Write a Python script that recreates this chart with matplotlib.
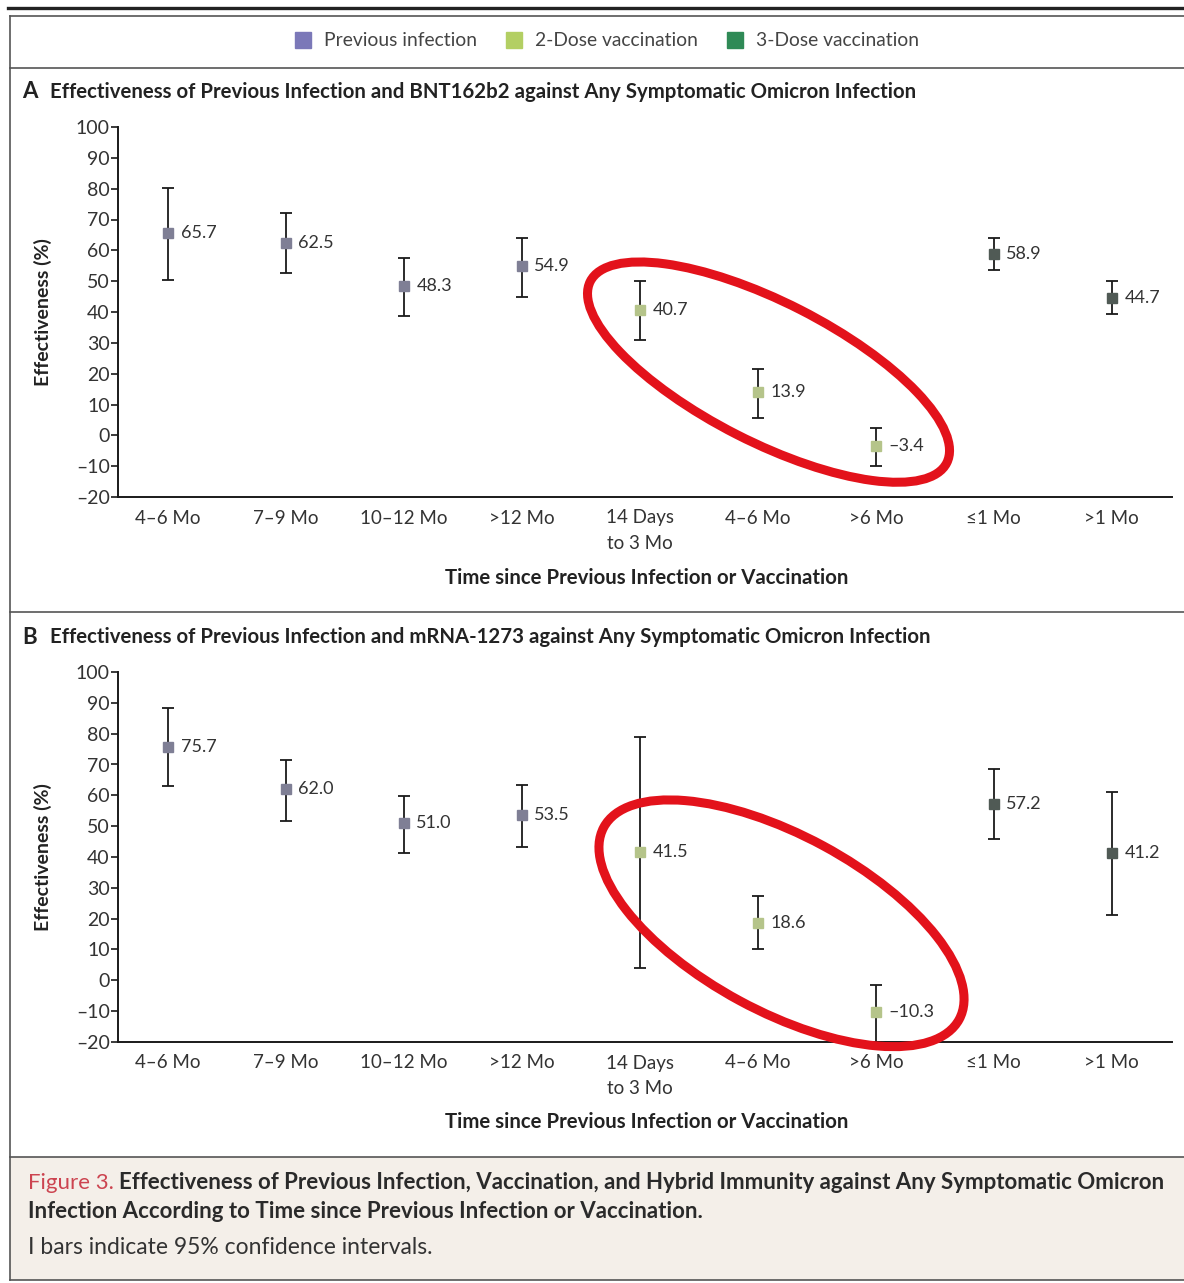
import matplotlib
matplotlib.use('Agg')
import matplotlib.pyplot as plt
from matplotlib.lines import Line2D
from matplotlib.patches import Ellipse, Rectangle
import matplotlib.transforms as mtransforms

plt.rcParams['font.family'] = ['Lato', 'DejaVu Sans']

# categories along the x axis
categories = ['4–6 Mo', '7–9 Mo', '10–12 Mo', '>12 Mo', '14 Days\nto 3 Mo',
              '4–6 Mo', '>6 Mo', '≤1 Mo', '>1 Mo']
groups = ['prev'] * 4 + ['dose2'] * 3 + ['dose3'] * 2

# panel A: BNT162b2
a_est = [65.7, 62.5, 48.3, 54.9, 40.7, 13.9, -3.4, 58.9, 44.7]
a_lo = [50.5, 52.5, 38.8, 45.0, 31.0, 5.6, -9.8, 53.6, 39.5]
a_hi = [80.2, 72.2, 57.4, 64.0, 49.9, 21.5, 2.3, 64.0, 49.9]

# panel B: mRNA-1273
b_est = [75.7, 62.0, 51.0, 53.5, 41.5, 18.6, -10.3, 57.2, 41.2]
b_lo = [62.9, 51.8, 41.4, 43.3, 4.0, 10.2, -20.0, 45.8, 21.1]
b_hi = [88.2, 71.6, 59.8, 63.5, 78.8, 27.2, -1.6, 68.5, 61.2]

legend_labels = ['Previous infection', '2-Dose vaccination', '3-Dose vaccination']
legend_colors = ['#7b78b8', '#b3cf63', '#2f8a56']
marker_colors = {'prev': '#7f7f95', 'dose2': '#b5c48a', 'dose3': '#505a55'}

W, H = 1184, 1283
fig = plt.figure(figsize=(W / 100, H / 100), dpi=100)


def fx(x):
    return x / W


def fy(y):
    return 1 - y / H


def fmt(v):
    s = '%.1f' % abs(v)
    return ('–' + s) if v < 0 else s


def draw_panel(ax, est, lo, hi, ellipse):
    xs = list(range(len(categories)))
    for g in ['prev', 'dose2', 'dose3']:
        idx = [i for i in xs if groups[i] == g]
        y = [est[i] for i in idx]
        yerr = [[est[i] - lo[i] for i in idx], [hi[i] - est[i] for i in idx]]
        ax.errorbar(idx, y, yerr=yerr, fmt='s', color=marker_colors[g],
                    ecolor='#1a1a1a', elinewidth=1.3, capsize=4.5, capthick=1.3,
                    markersize=7.5, zorder=3)
    for i in xs:
        ax.annotate(fmt(est[i]), (i, est[i]), xytext=(9, 0), textcoords='offset points',
                    va='center', ha='left', fontsize=13, color='#333333')
    ax.set_xlim(-0.424, 8.51)
    ax.set_ylim(-20, 100)
    ax.set_yticks(range(-20, 101, 10))
    ax.set_yticklabels([fmt(v).replace('.0', '') for v in range(-20, 101, 10)])
    ax.set_xticks(xs)
    ax.set_xticklabels(categories)
    for lab in ax.get_xticklabels():
        lab.set_linespacing(1.6)
    ax.tick_params(axis='x', length=0, pad=9, labelsize=13.5, colors='#333333')
    ax.tick_params(axis='y', length=5, width=1.2, pad=1, labelsize=14, colors='#333333')
    ax.tick_params(axis='y', color='#1a1a1a')
    for s in ['top', 'right']:
        ax.spines[s].set_visible(False)
    for s in ['left', 'bottom']:
        ax.spines[s].set_linewidth(1.4)
        ax.spines[s].set_color('#1a1a1a')
    ax.set_ylabel('Effectiveness (%)', fontsize=14, fontweight='bold', color='#222222')
    ax.yaxis.set_label_coords(-0.0626, 0.5)
    # red hand-drawn highlight ring (size in inches, centred in data units)
    cx, cy, w, h, ang = ellipse
    tr = fig.dpi_scale_trans + mtransforms.ScaledTranslation(cx, cy, ax.transData)
    ax.add_patch(Ellipse((0, 0), w, h, angle=ang, transform=tr, fill=False,
                         edgecolor='#e3121b', linewidth=6.5, clip_on=False, zorder=4))


axA = fig.add_axes([fx(118), fy(497), fx(1172 - 118), 370 / H])
axB = fig.add_axes([fx(118), fy(1042), fx(1172 - 118), 370 / H])
draw_panel(axA, a_est, a_lo, a_hi, (5.09, 20.5, 4.0, 1.4, -27))
draw_panel(axB, b_est, b_lo, b_hi, (5.2, 18.5, 4.04, 1.76, -28.4))

# panel titles and axis titles
fig.text(fx(22), fy(92), 'A', fontsize=16, fontweight='bold', va='center', color='#222222')
fig.text(fx(50), fy(92), 'Effectiveness of Previous Infection and BNT162b2 against Any Symptomatic Omicron Infection',
         fontsize=14.67, fontweight='bold', va='center', color='#222222')
fig.text(fx(22), fy(637), 'B', fontsize=16, fontweight='bold', va='center', color='#222222')
fig.text(fx(50), fy(637), 'Effectiveness of Previous Infection and mRNA-1273 against Any Symptomatic Omicron Infection',
         fontsize=14.67, fontweight='bold', va='center', color='#222222')
for yy in [578, 1122]:
    fig.text(fx(647), fy(yy), 'Time since Previous Infection or Vaccination', fontsize=14.67,
             fontweight='bold', ha='center', va='center', color='#222222')

# legend
handles = [Line2D([], [], marker='s', ls='none', color=c, markersize=11) for c in legend_colors]
fig.legend(handles, legend_labels, loc='center', bbox_to_anchor=(fx(607), fy(41)), ncol=3,
           frameon=False, handlelength=0.8, handletextpad=0.7, columnspacing=1.5,
           fontsize=13.9, labelcolor='#444444')

# frame and caption box
fig.add_artist(Rectangle((fx(10), fy(1280)), 1 - fx(10), (1280 - 1157) / H,
                         transform=fig.transFigure, facecolor='#f4efe9', edgecolor='none', zorder=0))
fig.add_artist(Line2D([fx(8), 1], [fy(8), fy(8)], color='#222222', linewidth=2.4))
for yy in [16, 68, 612, 1157, 1280]:
    fig.add_artist(Line2D([fx(10), 1], [fy(yy), fy(yy)], color='#555555', linewidth=1.2))
fig.add_artist(Line2D([fx(10), fx(10)], [fy(16), fy(1280)], color='#555555', linewidth=1.2))

t1 = fig.text(fx(28), fy(1183), 'Figure 3.', fontsize=16, color='#cc4450', va='center')
axB.annotate('Effectiveness of Previous Infection, Vaccination, and Hybrid Immunity against Any Symptomatic Omicron',
             xy=(1, 0), xycoords=t1, xytext=(4, 0), textcoords='offset points', va='bottom', ha='left',
             fontsize=16, fontweight='bold', color='#2a2a2a', annotation_clip=False)
fig.text(fx(28), fy(1212), 'Infection According to Time since Previous Infection or Vaccination.',
         fontsize=16, fontweight='bold', va='center', color='#2a2a2a')
fig.text(fx(28), fy(1247), 'I bars indicate 95% confidence intervals.', fontsize=16.5,
         va='center', color='#333333')

fig.savefig('out.png', dpi=100)
